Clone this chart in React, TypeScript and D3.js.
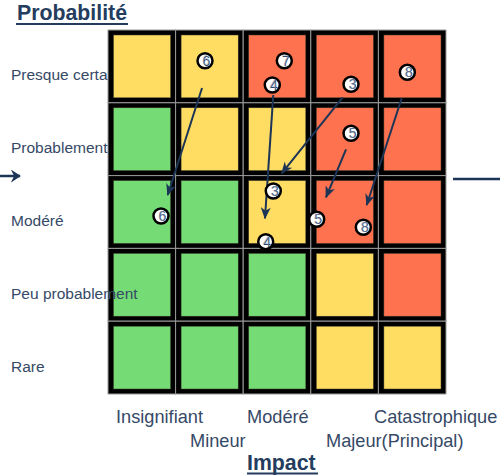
import React from "react";
import * as d3 from "d3";

const probabilityLabels = ["Presque certain", "Probablement", "Modéré", "Peu probablement", "Rare"];
const impactLabels = ["Insignifiant", "Mineur", "Modéré", "Majeur(Principal)", "Catastrophique"];
// risk level per cell, rows top (Presque certain) to bottom (Rare), columns Insignifiant..Catastrophique
const levelMatrix = [
  ["Y", "Y", "R", "R", "R"],
  ["G", "Y", "Y", "R", "R"],
  ["G", "G", "Y", "R", "R"],
  ["G", "G", "G", "Y", "R"],
  ["G", "G", "G", "Y", "Y"],
];
// risk markers (impact, probability in 0..5 continuous units)
const riskIds = ["6", "7", "4", "3", "8", "5", "3", "4", "5", "8", "6"];
const riskImpact = [1.435, 2.608, 2.43, 3.595, 4.428, 3.595, 2.445, 2.333, 3.087, 3.777, 0.784];
const riskProb = [4.578, 4.578, 4.245, 4.254, 4.419, 3.581, 2.788, 2.092, 2.4, 2.29, 2.445];
// arrows: movement of risks
const arrowX1 = [1.391, 2.445, 3.472, 4.345, 3.521];
const arrowY1 = [4.203, 4.107, 4.076, 4.062, 3.361];
const arrowX2 = [0.883, 2.322, 2.57, 3.827, 3.225];
const arrowY2 = [2.734, 2.413, 3.032, 2.596, 2.702];

const colors: Record<string, string> = { G: "#75DC75", Y: "#FFDD63", R: "#FF7250" };
const navy = "#1C3557";
const labelColor = "#364966";

export default function App() {
  const W = 500, H = 476;
  const x = d3.scaleLinear().domain([0, 5]).range([108, 446]);
  const y = d3.scaleLinear().domain([0, 5]).range([394, 30]);
  const cw = x(1) - x(0);
  const ch = y(0) - y(1);
  const rowTop = (r: number) => y(5 - r);
  const rowCenter = (r: number) => rowTop(r) + ch / 2;
  const font = "'Liberation Sans', Arial, sans-serif";
  const bottomX = [116, 190, 247, 326, 374];
  const bottomY = [423, 447, 423, 447, 423];

  return (
    <svg width={W} height={H} style={{ position: "absolute", left: 0, top: 0 }} fontFamily={font}>
      <defs>
        <marker id="ah" viewBox="0 0 12 10" refX="11" refY="5" markerWidth="12" markerHeight="10"
          markerUnits="userSpaceOnUse" orient="auto">
          <path d="M0,0 L12,5 L0,10 L3.5,5 Z" fill={navy} />
        </marker>
        <marker id="ahBig" viewBox="0 0 12 12" refX="11" refY="6" markerWidth="10" markerHeight="13"
          markerUnits="userSpaceOnUse" orient="auto" preserveAspectRatio="none">
          <path d="M0,0 L12,6 L0,12 L4,6 Z" fill={navy} />
        </marker>
      </defs>
      <rect width={W} height={H} fill="#fff" />
      {/* title */}
      <text x={17} y={20} fontSize={21.3} fontWeight="bold" fill="#243D5E">Probabilité</text>
      <line x1={16} x2={128} y1={24} y2={24} stroke="#243D5E" strokeWidth={2} />
      {/* first row label behind the grid */}
      <text x={11} y={rowCenter(0) + 14} fontSize={15.5} fill={labelColor}>{probabilityLabels[0]}</text>
      {/* grid */}
      {levelMatrix.map((row, r) =>
        row.map((lv, c) => (
          <g key={`${r}-${c}`}>
            <rect x={x(c)} y={rowTop(r)} width={cw} height={ch} fill="#000" stroke="#9a9a9a" strokeWidth={1} />
            <rect x={x(c) + 5.5} y={rowTop(r) + 5} width={cw - 10.5} height={ch - 10} fill={colors[lv]}
              stroke="#3a3a2a" strokeWidth={0.5} />
          </g>
        ))
      )}
      {/* other row labels */}
      {probabilityLabels.slice(1).map((l, i) => (
        <text key={l} x={11} y={rowCenter(i + 1) + 14} fontSize={15.5} fill={labelColor}>{l}</text>
      ))}
      {/* impact labels */}
      {impactLabels.map((l, i) => (
        <text key={l} x={bottomX[i]} y={bottomY[i]} fontSize={18.2} fill={labelColor}>{l}</text>
      ))}
      <text x={247} y={470} fontSize={21.3} fontWeight="bold" fill="#243D5E">Impact</text>
      <line x1={247} x2={318} y1={473.5} y2={473.5} stroke="#243D5E" strokeWidth={2} />
      {/* side arrows */}
      <line x1={0} x2={20} y1={176} y2={176} stroke={navy} strokeWidth={2.5} markerEnd="url(#ahBig)" />
      <line x1={453} x2={500} y1={179} y2={179} stroke={navy} strokeWidth={2.5} />
      {/* movement arrows */}
      {arrowX1.map((_, i) => (
        <line key={i} x1={x(arrowX1[i])} y1={y(arrowY1[i])} x2={x(arrowX2[i])} y2={y(arrowY2[i])}
          stroke={navy} strokeWidth={2} markerEnd="url(#ah)" />
      ))}
      {/* risk markers */}
      {riskIds.map((id, i) => (
        <g key={i} transform={`translate(${x(riskImpact[i])},${y(riskProb[i])})`}>
          <circle r={7.5} fill="#fff" stroke="#000" strokeWidth={2.5} />
          <text x={1.5} y={5} textAnchor="middle" fontSize={14} fill="#2E4468">{id}</text>
          <text x={1} y={4.5} textAnchor="middle" fontSize={14} fill="#8FA3C0" opacity={0.5}>{id}</text>
        </g>
      ))}
    </svg>
  );
}
